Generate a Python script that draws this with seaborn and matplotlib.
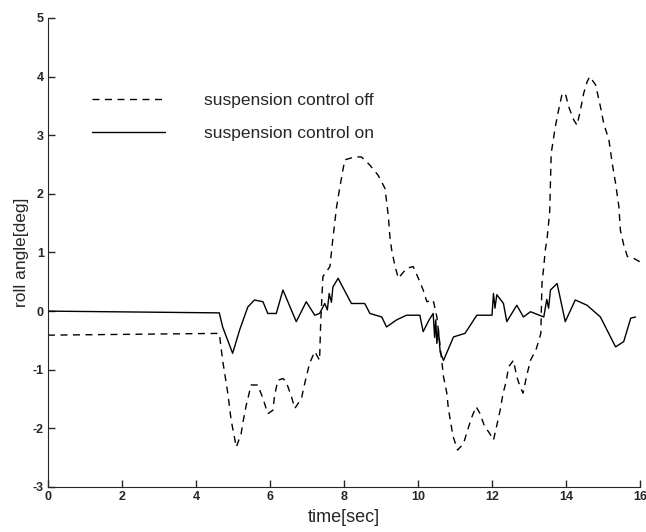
import numpy as np
import pandas as pd
import matplotlib
matplotlib.use("Agg")
import matplotlib.pyplot as plt
import seaborn as sns

# roll angle, suspension control on (solid)
t_on = [0.0, 4.63, 4.72, 4.99, 5.18, 5.40, 5.58, 5.81, 5.94, 6.17,
        6.35, 6.71, 6.98, 7.21, 7.34, 7.48, 7.55, 7.60, 7.66, 7.70,
        7.84, 8.20, 8.56, 8.70, 9.02, 9.15, 9.42, 9.69, 10.05, 10.14,
        10.30, 10.41, 10.45, 10.48, 10.51, 10.55, 10.60, 10.69, 10.96, 11.27,
        11.59, 12.00, 12.04, 12.08, 12.13, 12.31, 12.40, 12.67, 12.85, 13.04,
        13.40, 13.48, 13.53, 13.58, 13.76, 13.98, 14.25, 14.57, 14.93, 15.34,
        15.56, 15.75, 15.88]
roll_on = [0.0, -0.03, -0.27, -0.72, -0.32, 0.07, 0.19, 0.16, -0.04, -0.04,
           0.36, -0.18, 0.16, -0.07, -0.04, 0.13, 0.02, 0.30, 0.15, 0.41,
           0.56, 0.13, 0.13, -0.04, -0.10, -0.27, -0.15, -0.07, -0.07, -0.35,
           -0.15, -0.04, -0.45, -0.15, -0.55, -0.30, -0.70, -0.84, -0.44, -0.38,
           -0.07, -0.07, 0.30, 0.05, 0.28, 0.13, -0.18, 0.10, -0.10, -0.01,
           -0.10, 0.20, 0.05, 0.36, 0.47, -0.18, 0.19, 0.10, -0.10, -0.61,
           -0.52, -0.12, -0.10]

# roll angle, suspension control off (dashed)
t_off = [0.0, 4.63, 4.72, 4.86, 4.95, 5.09, 5.22, 5.27, 5.36, 5.49,
         5.67, 5.81, 5.94, 6.08, 6.12, 6.21, 6.35, 6.44, 6.58, 6.67,
         6.85, 6.94, 7.07, 7.21, 7.34, 7.37, 7.43, 7.62, 7.70, 7.80,
         7.89, 8.02, 8.29, 8.47, 8.70, 8.92, 9.11, 9.20, 9.24, 9.29,
         9.38, 9.47, 9.69, 9.87, 10.01, 10.14, 10.24, 10.41, 10.51, 10.69,
         10.78, 10.82, 10.89, 10.94, 11.07, 11.23, 11.34, 11.46, 11.57, 11.68,
         11.80, 11.91, 12.04, 12.13, 12.22, 12.30, 12.38, 12.45, 12.58, 12.67,
         12.76, 12.84, 12.93, 13.04, 13.20, 13.32, 13.35, 13.40, 13.44, 13.49,
         13.56, 13.60, 13.71, 13.80, 13.89, 13.98, 14.07, 14.21, 14.30, 14.39,
         14.48, 14.57, 14.64, 14.80, 14.93, 15.02, 15.16, 15.25, 15.34, 15.43,
         15.47, 15.56, 15.66, 15.83, 16.0]
roll_off = [-0.41, -0.38, -0.84, -1.40, -1.86, -2.32, -2.09, -1.89, -1.60, -1.26,
            -1.26, -1.49, -1.75, -1.69, -1.46, -1.18, -1.15, -1.21, -1.46, -1.66,
            -1.49, -1.23, -0.89, -0.69, -0.84, -0.20, 0.59, 0.76, 1.24, 1.78,
            2.12, 2.58, 2.63, 2.63, 2.49, 2.32, 2.09, 1.61, 1.27, 1.04,
            0.76, 0.56, 0.73, 0.76, 0.56, 0.36, 0.16, 0.19, -0.10, -1.12,
            -1.40, -1.66, -1.92, -2.12, -2.37, -2.26, -2.03, -1.80, -1.63, -1.75,
            -1.97, -2.06, -2.20, -1.95, -1.69, -1.40, -1.21, -0.95, -0.84, -1.12,
            -1.29, -1.40, -1.12, -0.84, -0.64, -0.38, 0.47, 0.76, 1.04, 1.24,
            1.70, 2.69, 3.14, 3.43, 3.69, 3.72, 3.49, 3.26, 3.17, 3.43,
            3.72, 3.91, 4.00, 3.86, 3.49, 3.20, 2.92, 2.52, 2.18, 1.78,
            1.38, 1.13, 0.93, 0.90, 0.84]

labels = ["suspension control off", "suspension control on"]
x_ticks = [0, 2, 4, 6, 8, 10, 12, 14, 16]
y_ticks = [-3, -2, -1, 0, 1, 2, 3, 4, 5]

df = pd.concat([
    pd.DataFrame({"time": t_off, "roll": roll_off, "mode": labels[0]}),
    pd.DataFrame({"time": t_on, "roll": roll_on, "mode": labels[1]}),
], ignore_index=True)

sns.set_style("ticks")
plt.rcParams['font.family'] = ['Liberation Sans', 'DejaVu Sans']
plt.rcParams['axes.unicode_minus'] = False

fig = plt.figure(figsize=(6.46, 5.32), dpi=100)
ax = fig.add_axes([0.0743, 0.0846, 0.9164, 0.8816])

sns.lineplot(data=df, x="time", y="roll", hue="mode", style="mode",
             palette=["black", "black"], dashes={labels[0]: (5, 4), labels[1]: ""},
             estimator=None, sort=False, linewidth=1.0, ax=ax)

ax.set_xlim(0, 16)
ax.set_ylim(-3, 5)
ax.set_xticks(x_ticks)
ax.set_yticks(y_ticks)
ax.tick_params(direction="in", length=5, width=1, labelsize=9, pad=3)
for lab in ax.get_xticklabels() + ax.get_yticklabels():
    lab.set_fontweight("bold")
ax.set_xlabel("time[sec]", fontsize=13, labelpad=4)
ax.set_ylabel("roll angle[deg]", fontsize=12.5, labelpad=3)
sns.despine(ax=ax)

ax.legend(loc="upper left", bbox_to_anchor=(1.2, 3.72), bbox_transform=ax.transData,
          frameon=False, fontsize=12.5, handlelength=4.2, handletextpad=2.2,
          labelspacing=1.0, borderpad=0, borderaxespad=0)

plt.savefig("out.png", dpi=100)
